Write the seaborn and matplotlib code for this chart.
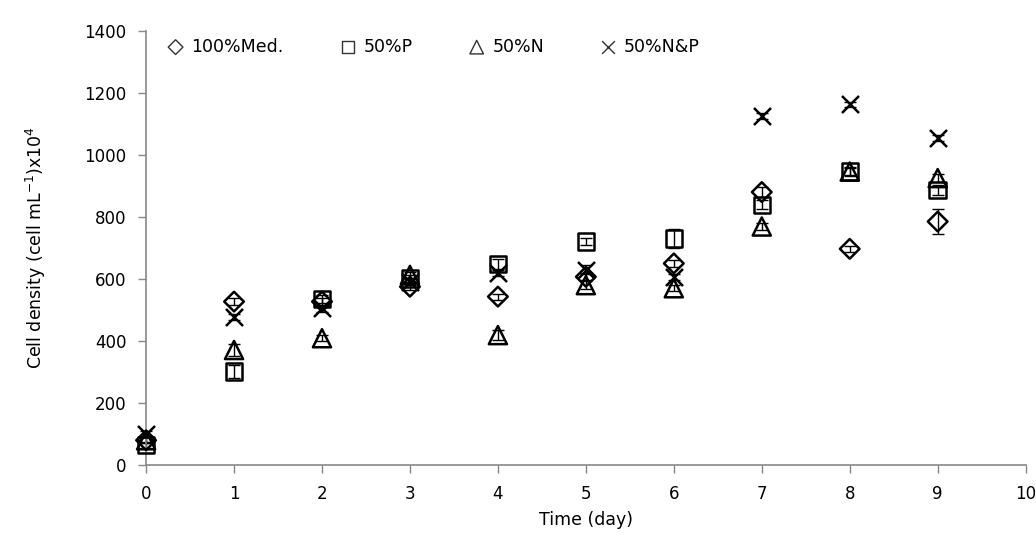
import matplotlib
matplotlib.use("Agg")
import matplotlib.pyplot as plt
import seaborn as sns
import pandas as pd

# Culture time (days)
days = [0, 1, 2, 3, 4, 5, 6, 7, 8, 9]

# Mean cell density (cells mL^-1 x 10^4) per medium treatment
med100 = [80, 527, 527, 575, 543, 607, 650, 880, 697, 785]
p50 = [65, 301, 535, 602, 648, 720, 731, 839, 946, 887]
n50 = [80, 371, 409, 613, 419, 580, 570, 769, 946, 925]
np50 = [100, 478, 505, 591, 618, 630, 607, 1124, 1163, 1054]

# Standard deviations
med100_sd = [10, 10, 10, 10, 10, 12, 10, 15, 10, 40]
p50_sd = [10, 20, 12, 12, 15, 12, 30, 15, 15, 15]
n50_sd = [10, 20, 10, 10, 15, 12, 10, 12, 12, 12]
np50_sd = [10, 10, 10, 10, 10, 15, 10, 10, 8, 10]

labels = ["100%Med.", "50%P", "50%N", "50%N&P"]
markers = ["D", "s", "^", "x"]
sizes = [100, 140, 170, 150]

series = [med100, p50, n50, np50]
errors = [med100_sd, p50_sd, n50_sd, np50_sd]

frames = []
for lab, vals, sd in zip(labels, series, errors):
    frames.append(pd.DataFrame({"day": days, "density": vals, "sd": sd, "treatment": lab}))
df = pd.concat(frames, ignore_index=True)

sns.set_style("white")
plt.rcParams["font.family"] = ["DejaVu Sans"]
plt.rcParams["text.color"] = "black"
plt.rcParams["axes.labelcolor"] = "black"
plt.rcParams["xtick.color"] = "black"
plt.rcParams["ytick.color"] = "black"

fig = plt.figure(figsize=(10.36, 5.59), dpi=100)
ax = fig.add_axes([0.141, 0.168, 0.849, 0.777])

for lab, mk, sz in zip(labels, markers, sizes):
    sub = df[df["treatment"] == lab]
    _, caps, bars = ax.errorbar(sub["day"], sub["density"], yerr=sub["sd"], fmt="none",
                                ecolor="black", elinewidth=1.0, capsize=4, capthick=1.0,
                                zorder=2)
    for c in caps:
        c.set_clip_on(False)
    for b in bars:
        b.set_clip_on(False)
    if mk == "x":
        sns.scatterplot(data=sub, x="day", y="density", marker=mk, s=sz,
                        color="black", linewidth=1.8, ax=ax, zorder=3, label=lab,
                        clip_on=False)
    else:
        sns.scatterplot(data=sub, x="day", y="density", marker=mk, s=sz,
                        facecolor="none", edgecolor="black", linewidth=1.8,
                        ax=ax, zorder=3, label=lab, clip_on=False)

ax.set_xlim(0, 10)
ax.set_ylim(0, 1400)
ax.set_xticks(range(0, 11))
ax.set_yticks(range(0, 1401, 200))
ax.set_xlabel("Time (day)", fontsize=12.5, labelpad=6)
ax.set_ylabel("Cell density (cell mL$^{-1}$)x10$^{4}$", fontsize=12.5, labelpad=26)
ax.tick_params(axis="both", labelsize=12, direction="out", length=6,
               color="#888888", width=1, bottom=True, left=True, pad=8)

for side in ["top", "right"]:
    ax.spines[side].set_visible(False)
for side in ["left", "bottom"]:
    ax.spines[side].set_color("#888888")
    ax.spines[side].set_linewidth(1.2)

handles, hl = ax.get_legend_handles_labels()
leg = ax.legend(handles, hl, loc="upper left", bbox_to_anchor=(0.0, 1.02), ncol=4,
                frameon=False, fontsize=12.5, handletextpad=0.1, columnspacing=2.9,
                handlelength=1.6, markerscale=0.75)
for h in leg.legend_handles:
    h.set_linewidth(1.0)
    if hasattr(h, "set_edgecolor"):
        h.set_edgecolor("#333333")

fig.savefig("out.png", dpi=100)
